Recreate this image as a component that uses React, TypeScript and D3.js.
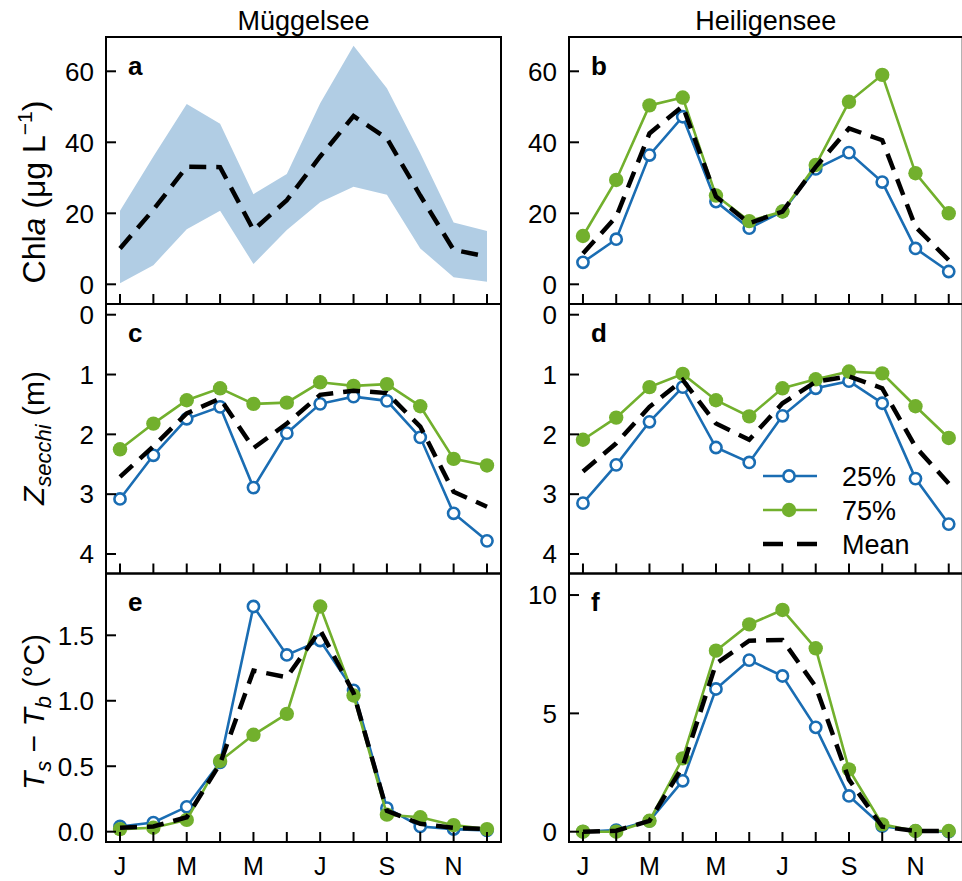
import React from 'react';
import * as d3 from 'd3';

// ---------- data ----------
const months = [1, 2, 3, 4, 5, 6, 7, 8, 9, 10, 11, 12];
const monthLabelPositions = [1, 3, 5, 7, 9, 11];
const monthLabels = ['J', 'M', 'M', 'J', 'S', 'N'];
const lakeTitles = ['Müggelsee', 'Heiligensee'];

const chlaTicks = [0, 20, 40, 60];
const secchiTicks = [0, 1, 2, 3, 4];
const dtMugTicks = [0, 0.5, 1.0, 1.5];
const dtHeiTicks = [0, 5, 10];

// Panel a — Müggelsee Chl a (band = 25–75 %)
const mugChlaLower = [0.3, 5.4, 15.5, 20.7, 5.7, 15.3, 23.1, 27.5, 25.2, 10.1, 2.0, 0.7];
const mugChlaUpper = [20.7, 36.0, 50.8, 45.2, 25.4, 31.1, 51.0, 67.2, 55.2, 36.9, 17.4, 15.0];
const mugChlaMean = [10.1, 21.0, 33.1, 33.0, 15.3, 23.7, 36.0, 47.4, 41.1, 25.0, 9.7, 7.8];

// Panel b — Heiligensee Chl a
const heiChlaQ25 = [6.2, 12.7, 36.4, 47.2, 23.3, 15.8, 20.5, 32.5, 37.1, 28.8, 10.1, 3.6];
const heiChlaQ75 = [13.6, 29.4, 50.4, 52.6, 25.0, 17.8, 20.5, 33.6, 51.4, 59.0, 31.3, 20.0];
const heiChlaMean = [8.7, 19.0, 42.5, 50.2, 24.7, 17.2, 20.5, 33.1, 43.9, 40.6, 16.2, 6.8];

// Panel c — Müggelsee Secchi depth
const mugSecchiQ25 = [3.08, 2.35, 1.74, 1.54, 2.89, 1.98, 1.49, 1.37, 1.44, 2.05, 3.32, 3.78];
const mugSecchiQ75 = [2.25, 1.82, 1.43, 1.23, 1.49, 1.47, 1.13, 1.19, 1.16, 1.53, 2.41, 2.52];
const mugSecchiMean = [2.71, 2.2, 1.65, 1.4, 2.23, 1.82, 1.34, 1.27, 1.31, 1.87, 2.96, 3.21];

// Panel d — Heiligensee Secchi depth
const heiSecchiQ25 = [3.15, 2.51, 1.79, 1.21, 2.22, 2.47, 1.69, 1.23, 1.11, 1.48, 2.74, 3.5];
const heiSecchiQ75 = [2.09, 1.72, 1.21, 0.99, 1.43, 1.7, 1.23, 1.08, 0.95, 0.98, 1.53, 2.06];
const heiSecchiMean = [2.62, 2.15, 1.54, 1.09, 1.82, 2.09, 1.48, 1.12, 1.03, 1.23, 2.21, 2.82];

// Panel e — Müggelsee Ts - Tb
const mugDtQ25 = [0.04, 0.07, 0.19, 0.53, 1.72, 1.35, 1.46, 1.08, 0.18, 0.04, 0.02, 0.01];
const mugDtQ75 = [0.02, 0.03, 0.09, 0.54, 0.74, 0.9, 1.72, 1.04, 0.13, 0.11, 0.05, 0.02];
const mugDtMean = [0.03, 0.04, 0.11, 0.52, 1.23, 1.18, 1.54, 1.06, 0.16, 0.06, 0.03, 0.02];

// Panel f — Heiligensee Ts - Tb
const heiDtQ25 = [0, 0.07, 0.46, 2.15, 6.03, 7.25, 6.58, 4.41, 1.51, 0.24, 0.03, 0];
const heiDtQ75 = [0, 0, 0.46, 3.1, 7.65, 8.76, 9.37, 7.75, 2.63, 0.31, 0.03, 0.03];
const heiDtMean = [0, 0.04, 0.46, 2.75, 7.1, 8.07, 8.1, 6.13, 2.2, 0.21, 0.03, 0.03];

const legendLabels = ['25%', '75%', 'Mean'];

// ---------- style ----------
const FONT = "'Liberation Sans', Arial, Helvetica, sans-serif";
const BLUE = '#1a6db3';
const GREEN = '#72b02d';
const BAND = '#b1cde4';

const colX = [
  [106, 501],
  [569, 962.7],
];
const rowY = [
  [37, 304],
  [304, 573.5],
  [573.5, 842],
];
const xDomain = [0.58, 12.42];

type Panel = {
  letter: string;
  col: number;
  row: number;
  yBottom: number;
  yTop: number;
  ticks: number[];
  fmt: (d: number) => string;
  lower?: number[];
  upper?: number[];
  q25?: number[];
  q75?: number[];
  mean: number[];
  legend?: boolean;
};

const panels: Panel[] = [
  { letter: 'a', col: 0, row: 0, yBottom: -5.55, yTop: 69.66, ticks: chlaTicks, fmt: d3.format('d'), lower: mugChlaLower, upper: mugChlaUpper, mean: mugChlaMean },
  { letter: 'b', col: 1, row: 0, yBottom: -5.55, yTop: 69.66, ticks: chlaTicks, fmt: d3.format('d'), q25: heiChlaQ25, q75: heiChlaQ75, mean: heiChlaMean },
  { letter: 'c', col: 0, row: 1, yBottom: 4.326, yTop: -0.179, ticks: secchiTicks, fmt: d3.format('d'), q25: mugSecchiQ25, q75: mugSecchiQ75, mean: mugSecchiMean },
  { letter: 'd', col: 1, row: 1, yBottom: 4.326, yTop: -0.179, ticks: secchiTicks, fmt: d3.format('d'), q25: heiSecchiQ25, q75: heiSecchiQ75, mean: heiSecchiMean, legend: true },
  { letter: 'e', col: 0, row: 2, yBottom: -0.0787, yTop: 1.972, ticks: dtMugTicks, fmt: d3.format('.1f'), q25: mugDtQ25, q75: mugDtQ75, mean: mugDtMean },
  { letter: 'f', col: 1, row: 2, yBottom: -0.435, yTop: 10.91, ticks: dtHeiTicks, fmt: d3.format('d'), q25: heiDtQ25, q75: heiDtQ75, mean: heiDtMean },
];

function PanelView({ p }: { p: Panel }) {
  const [x0, x1] = colX[p.col];
  const [y0, y1] = rowY[p.row];
  const x = d3.scaleLinear().domain(xDomain).range([x0, x1]);
  const y = d3.scaleLinear().domain([p.yBottom, p.yTop]).range([y1, y0]);
  const line = d3
    .line<number>()
    .x((_, i) => x(months[i]))
    .y((d) => y(d));
  const area = d3
    .area<number>()
    .x((_, i) => x(months[i]))
    .y0((_, i) => y(p.lower![i]))
    .y1((d) => y(d));
  const clipId = `clip-${p.letter}`;
  return (
    <g>
      <defs>
        <clipPath id={clipId}>
          <rect x={x0} y={y0} width={x1 - x0} height={y1 - y0} />
        </clipPath>
      </defs>
      <g clipPath={`url(#${clipId})`}>
        {p.upper && p.lower && <path d={area(p.upper)!} fill={BAND} stroke="none" />}
        {p.q25 && <path d={line(p.q25)!} fill="none" stroke={BLUE} strokeWidth={2.6} />}
        {p.q25 &&
          p.q25.map((v, i) => (
            <circle key={`b${i}`} cx={x(months[i])} cy={y(v)} r={5.6} fill="#fff" stroke={BLUE} strokeWidth={2.6} />
          ))}
        {p.q75 && <path d={line(p.q75)!} fill="none" stroke={GREEN} strokeWidth={2.6} />}
        {p.q75 &&
          p.q75.map((v, i) => <circle key={`g${i}`} cx={x(months[i])} cy={y(v)} r={7.2} fill={GREEN} />)}
        <path d={line(p.mean)!} fill="none" stroke="#000" strokeWidth={4.5} strokeDasharray="17 10" />
      </g>
      {/* frame */}
      <rect x={x0} y={y0} width={x1 - x0} height={y1 - y0} fill="none" stroke="#000" strokeWidth={2} />
      {/* y ticks (inward) */}
      {p.ticks.map((t) => (
        <g key={`yt${t}`}>
          <line x1={x0} x2={x0 + 10} y1={y(t)} y2={y(t)} stroke="#000" strokeWidth={2} />
          <text x={x0 - 12} y={y(t) + 9.3} textAnchor="end" fontSize={26} fontFamily={FONT} fill="#000">
            {p.fmt(t)}
          </text>
        </g>
      ))}
      {/* x ticks (inward at bottom) */}
      {months.map((m) => (
        <line key={`xt${m}`} x1={x(m)} x2={x(m)} y1={y1 - 10} y2={y1} stroke="#000" strokeWidth={2} />
      ))}
      {p.row === 2 &&
        monthLabelPositions.map((m, i) => (
          <text key={`ml${m}`} x={x(m)} y={875} textAnchor="middle" fontSize={25} fontFamily={FONT} fill="#000">
            {monthLabels[i]}
          </text>
        ))}
      <text x={x0 + 22} y={y0 + 37.5} fontSize={26} fontWeight="bold" fontFamily={FONT} fill="#000">
        {p.letter}
      </text>
      {p.legend && (
        <g>
          {legendLabels.map((lab, i) => {
            const ly = 476 + i * 34;
            return (
              <g key={lab}>
                {i === 0 && (
                  <>
                    <line x1={763} x2={817} y1={ly} y2={ly} stroke={BLUE} strokeWidth={2.6} />
                    <circle cx={789} cy={ly} r={5.6} fill="#fff" stroke={BLUE} strokeWidth={2.6} />
                  </>
                )}
                {i === 1 && (
                  <>
                    <line x1={763} x2={817} y1={ly} y2={ly} stroke={GREEN} strokeWidth={2.6} />
                    <circle cx={789} cy={ly} r={7.2} fill={GREEN} />
                  </>
                )}
                {i === 2 && (
                  <line x1={763} x2={817} y1={ly} y2={ly} stroke="#000" strokeWidth={4.5} strokeDasharray="20 14" />
                )}
                <text x={842} y={ly + 9.5} fontSize={27} fontFamily={FONT} fill="#000">
                  {lab}
                </text>
              </g>
            );
          })}
        </g>
      )}
    </g>
  );
}

export default function App() {
  return (
    <svg
      width={962}
      height={881}
      viewBox="0 0 962 881"
      style={{ position: 'absolute', left: 0, top: 0, background: '#fff' }}
    >
      <rect x={0} y={0} width={962} height={881} fill="#fff" />
      {lakeTitles.map((t, i) => (
        <text
          key={t}
          x={(colX[i][0] + colX[i][1]) / 2}
          y={30}
          textAnchor="middle"
          fontSize={27}
          fontFamily={FONT}
          fill="#000"
        >
          {t}
        </text>
      ))}
      {panels.map((p) => (
        <PanelView key={p.letter} p={p} />
      ))}
      {/* y-axis titles */}
      <text transform="translate(45,192) rotate(-90)" textAnchor="middle" fontSize={32} fontFamily={FONT} fill="#000">
        <tspan>Chl</tspan>
        <tspan fontStyle="italic">a</tspan>
        <tspan> (μg L</tspan>
        <tspan fontSize={21} dy={-13}>−1</tspan>
        <tspan dy={13}>)</tspan>
      </text>
      <text transform="translate(44,438) rotate(-90)" textAnchor="middle" fontSize={30} fontFamily={FONT} fill="#000">
        <tspan fontStyle="italic">Z</tspan>
        <tspan fontStyle="italic" fontSize={22} dy={7}>secchi</tspan>
        <tspan dy={-7}> (m)</tspan>
      </text>
      <text transform="translate(44,712) rotate(-90)" textAnchor="middle" fontSize={30} fontFamily={FONT} fill="#000">
        <tspan fontStyle="italic">T</tspan>
        <tspan fontStyle="italic" fontSize={22} dy={7}>s</tspan>
        <tspan dy={-7}> − </tspan>
        <tspan fontStyle="italic">T</tspan>
        <tspan fontStyle="italic" fontSize={22} dy={7}>b</tspan>
        <tspan dy={-7}> (°C)</tspan>
      </text>
    </svg>
  );
}
